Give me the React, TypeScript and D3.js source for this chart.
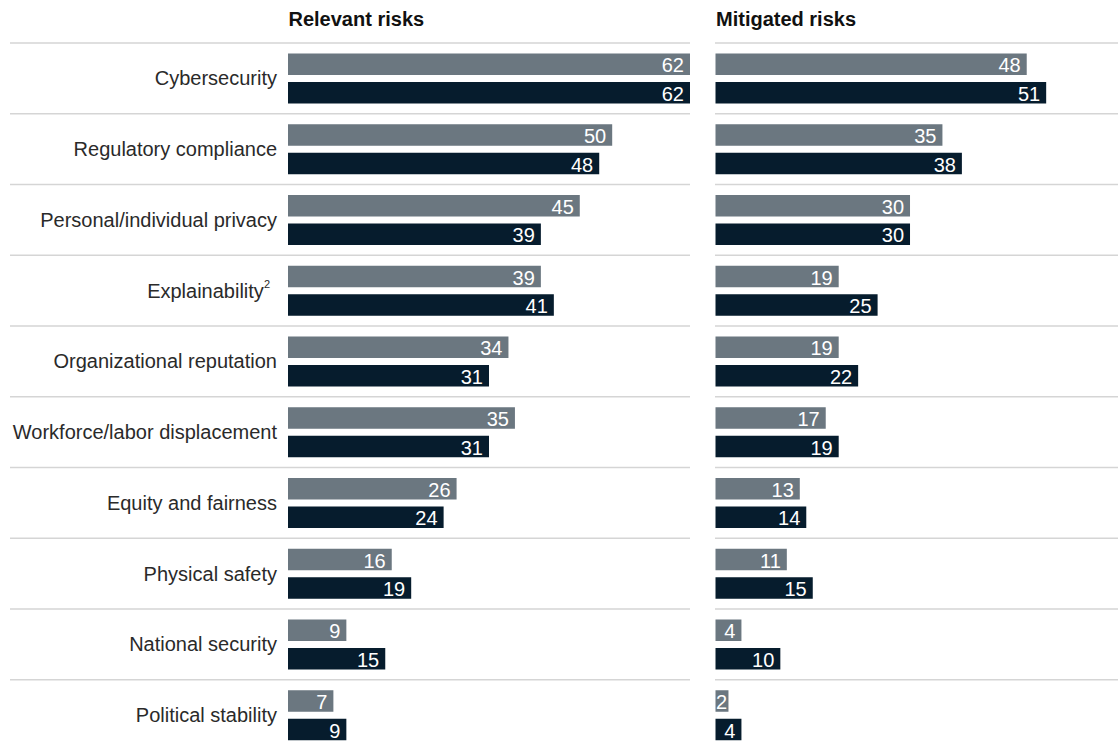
import React from "react";
import * as d3 from "d3";

const categories = [
  "Cybersecurity",
  "Regulatory compliance",
  "Personal/individual privacy",
  "Explainability",
  "Organizational reputation",
  "Workforce/labor displacement",
  "Equity and fairness",
  "Physical safety",
  "National security",
  "Political stability",
];
const superscripts = ["", "", "", "2", "", "", "", "", "", ""];

const panelTitles = ["Relevant risks", "Mitigated risks"];
const seriesKeys = ["earlier", "later"];

const relevantEarlier = [62, 50, 45, 39, 34, 35, 26, 16, 9, 7];
const relevantLater = [62, 48, 39, 41, 31, 31, 24, 19, 15, 9];
const mitigatedEarlier = [48, 35, 30, 19, 19, 17, 13, 11, 4, 2];
const mitigatedLater = [51, 38, 30, 25, 22, 19, 14, 15, 10, 4];

const W = 1118;
const H = 744;
const FONT = "'Liberation Sans', Arial, Helvetica, sans-serif";
const GRAY = "#6b7780";
const NAVY = "#061c2d";
const RULE = "#d5d5d5";

export default function App() {
  const y = d3
    .scaleBand<string>()
    .domain(categories)
    .range([43, 43 + categories.length * 70.75])
    .padding(0);
  const inner = d3
    .scaleBand<string>()
    .domain(seriesKeys)
    .range([10.5, 60.5])
    .paddingInner(7 / 28.5)
    .paddingOuter(0);
  const x = d3.scaleLinear().domain([0, 62]).range([0, 402]);

  const panels = [
    { title: panelTitles[0], x0: 288, lineX0: 10, lineX1: 690, data: [relevantEarlier, relevantLater] },
    { title: panelTitles[1], x0: 715.5, lineX0: 715, lineX1: 1118, data: [mitigatedEarlier, mitigatedLater] },
  ];
  const colors = [GRAY, NAVY];
  const fs = 20;
  const vfs = 20;

  return (
    <svg
      width={W}
      height={H}
      style={{ position: "absolute", left: 0, top: 0, background: "#fff" }}
      fontFamily={FONT}
    >
      {panels.map((p, pi) => (
        <g key={pi}>
          <text x={p.x0 + 0.5} y={26} fontSize={20} fontWeight="bold" fill="#111">
            {p.title}
          </text>
          {categories.map((c) => (
            <line
              key={c}
              x1={p.lineX0}
              x2={p.lineX1}
              y1={y(c) as number}
              y2={y(c) as number}
              stroke={RULE}
              strokeWidth={1.6}
            />
          ))}
          {p.data.map((series, si) =>
            series.map((v, ci) => {
              const c = categories[ci];
              const by = (y(c) as number) + (inner(seriesKeys[si]) as number);
              const bw = x(v);
              const bh = inner.bandwidth();
              const txt = String(v);
              const tw = txt.length * 0.556 * vfs;
              const tx = Math.max(p.x0 + bw - 6, p.x0 + tw + 0.5);
              return (
                <g key={`${si}-${ci}`}>
                  <rect x={p.x0} y={by} width={bw} height={bh} fill={colors[si]} />
                  <text
                    x={tx}
                    y={by + bh / 2 + 1}
                    fontSize={vfs}
                    fill="#fff"
                    textAnchor="end"
                    dominantBaseline="central"
                  >
                    {txt}
                  </text>
                </g>
              );
            })
          )}
        </g>
      ))}
      {categories.map((c, ci) => (
        <text
          key={c}
          x={superscripts[ci] ? 270 : 277}
          y={(y(c) as number) + y.bandwidth() / 2}
          fontSize={fs}
          fill="#2a2a2a"
          textAnchor="end"
          dominantBaseline="central"
        >
          {c}
          {superscripts[ci] ? (
            <tspan fontSize={11} dy={-7}>
              {superscripts[ci]}
            </tspan>
          ) : null}
        </text>
      ))}
    </svg>
  );
}
